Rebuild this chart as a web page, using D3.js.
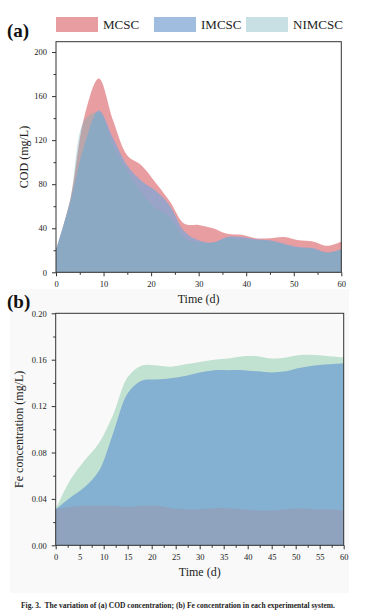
<!DOCTYPE html>
<html>
<head>
<meta charset="utf-8">
<script src="https://cdn.jsdelivr.net/npm/d3@7.9.0/dist/d3.min.js"></script>
<style>
  body { margin: 0; background: #fff; }
  svg { display: block; font-family: "Liberation Serif", "Times New Roman", serif; }
</style>
</head>
<body>
<svg id="fig" width="374" height="616"></svg>
<script>
// sampling days (both panels)
const days = [0, 3, 6, 9, 12, 15, 18, 21, 24, 27, 30, 33, 36, 39, 42, 45, 48, 51, 54, 57, 60];

// (a) COD, mg/L
const codMCSC   = [20, 66, 142, 176, 138, 106, 97, 81, 64, 44, 43, 40, 35, 34, 31, 31, 32, 29, 28, 24, 28];
const codIMCSC  = [20, 64, 116, 147, 122, 97, 83, 74, 60, 37, 29, 27, 32, 32, 30, 29, 26, 23, 22, 18, 21];
const codNIMCSC = [20, 66, 138, 145, 115, 92, 72, 58, 50, 31, 27, 27, 31, 30, 29, 28, 25, 22, 21, 18, 21];

// (b) Fe, mg/L
const feMCSC   = [0.031, 0.033, 0.034, 0.034, 0.034, 0.033, 0.034, 0.034, 0.032, 0.031, 0.031, 0.032, 0.032, 0.031, 0.030, 0.030, 0.031, 0.032, 0.031, 0.031, 0.030];
const feIMCSC  = [0.031, 0.041, 0.050, 0.064, 0.097, 0.131, 0.142, 0.143, 0.144, 0.146, 0.149, 0.151, 0.151, 0.151, 0.150, 0.149, 0.150, 0.153, 0.155, 0.156, 0.157];
const feNIMCSC = [0.031, 0.056, 0.073, 0.088, 0.113, 0.145, 0.155, 0.155, 0.154, 0.156, 0.158, 0.160, 0.161, 0.163, 0.163, 0.161, 0.162, 0.164, 0.164, 0.163, 0.162];

const seriesNames = ['MCSC', 'IMCSC', 'NIMCSC'];

const codYTicks = [0, 40, 80, 120, 160, 200];
const codXTicks = [0, 10, 20, 30, 40, 50, 60];
const feYTicks = [0, 0.04, 0.08, 0.12, 0.16, 0.20];
const feXTicks = [0, 5, 10, 15, 20, 25, 30, 35, 40, 45, 50, 55, 60];

const svg = d3.select('#fig');
const ink = '#222';
const serif = '"Liberation Serif", "Times New Roman", serif';

// faint figure background behind panel (b)
svg.append('rect').attr('x', 10).attr('y', 289).attr('width', 339).attr('height', 304).attr('fill', '#f9f9f9');

function drawAxes(g, x, y, opts) {
  let [x0, x1] = x.range();
  let [y0, y1] = y.range();

  let xMinor = [];
  for (let i = 0; i < opts.xTicks.length - 1; i++) xMinor.push((opts.xTicks[i] + opts.xTicks[i + 1]) / 2);
  let yMinor = [];
  for (let i = 0; i < opts.yTicks.length - 1; i++) yMinor.push((opts.yTicks[i] + opts.yTicks[i + 1]) / 2);

  let xa = g.append('g').attr('transform', `translate(0,${y0})`)
    .call(d3.axisBottom(x).tickValues(opts.xTicks).tickSize(4).tickSizeOuter(0).tickPadding(5));
  let xm = g.append('g').attr('transform', `translate(0,${y0})`)
    .call(d3.axisBottom(x).tickValues(xMinor).tickSize(2.5).tickSizeOuter(0).tickFormat(''));
  let ya = g.append('g').attr('transform', `translate(${x0},0)`)
    .call(d3.axisLeft(y).tickValues(opts.yTicks).tickSize(4).tickSizeOuter(0).tickPadding(5).tickFormat(opts.yFormat));
  let ym = g.append('g').attr('transform', `translate(${x0},0)`)
    .call(d3.axisLeft(y).tickValues(yMinor).tickSize(2.5).tickSizeOuter(0).tickFormat(''));

  [xa, xm, ya, ym].forEach((a) => {
    a.attr('font-family', serif).attr('font-size', 8.5);
    a.select('.domain').remove();
    a.selectAll('line').attr('stroke', '#333');
    a.selectAll('text').attr('fill', ink);
  });

  g.append('rect')
    .attr('x', x0).attr('y', y1)
    .attr('width', x1 - x0).attr('height', y0 - y1)
    .attr('fill', 'none').attr('stroke', '#333').attr('stroke-width', 1);

  g.append('text')
    .attr('x', (x0 + x1) / 2).attr('y', y0 + 31)
    .attr('text-anchor', 'middle').attr('font-size', 12).attr('fill', ink)
    .text('Time (d)');

  g.append('text')
    .attr('transform', `translate(${opts.yTitleX},${(y0 + y1) / 2}) rotate(-90)`)
    .attr('text-anchor', 'middle').attr('font-size', 12).attr('fill', ink)
    .text(opts.yTitle);
}

// ---------- (a) COD ----------
{
  let x = d3.scaleLinear().domain([0, 60]).range([56, 341.3]);
  let y = d3.scaleLinear().domain([0, 209.4]).range([272.3, 41.7]);
  let area = (vals) => d3.area()
    .x((d, i) => x(days[i]))
    .y0(y(0))
    .y1((d) => y(d))
    .curve(d3.curveCatmullRom.alpha(0.5))(vals);

  let layers = [
    { name: 'MCSC', values: codMCSC, color: '#e07c80', opacity: 0.75 },
    { name: 'IMCSC', values: codIMCSC, color: '#80a7d6', opacity: 0.75 },
    { name: 'NIMCSC', values: codNIMCSC, color: '#76b2bc', opacity: 0.4 }
  ];

  let g = svg.append('g');
  layers.forEach((l) => {
    g.append('path').attr('d', area(l.values)).attr('fill', l.color).attr('fill-opacity', l.opacity);
  });

  drawAxes(g, x, y, {
    xTicks: codXTicks, yTicks: codYTicks, yFormat: d3.format('d'),
    yTitle: 'COD (mg/L)', yTitleX: 28
  });

  // legend
  let legendX = [56, 154, 246];
  seriesNames.forEach((name, i) => {
    let l = layers[i];
    svg.append('rect')
      .attr('x', legendX[i]).attr('y', 17).attr('width', 42).attr('height', 15)
      .attr('fill', l.color).attr('fill-opacity', l.opacity);
    svg.append('text')
      .attr('x', legendX[i] + 47).attr('y', 29)
      .attr('font-size', 13).attr('fill', ink)
      .text(name);
  });

  svg.append('text').attr('x', 7).attr('y', 37)
    .attr('font-size', 19).attr('font-weight', 'bold').attr('fill', '#111').text('(a)');
}

// ---------- (b) Fe ----------
{
  let x = d3.scaleLinear().domain([0, 60]).range([55.7, 343.7]);
  let y = d3.scaleLinear().domain([0, 0.2]).range([545.3, 313.3]);
  let area = (vals) => d3.area()
    .x((d, i) => x(days[i]))
    .y0(y(0))
    .y1((d) => y(d))
    .curve(d3.curveCatmullRom.alpha(0.5))(vals);

  let layers = [
    { values: feNIMCSC, color: '#c1e1d1' },
    { values: feIMCSC, color: '#84b0d1' },
    { values: feMCSC, color: '#8fa3bf' }
  ];

  let g = svg.append('g');
  layers.forEach((l) => {
    g.append('path').attr('d', area(l.values)).attr('fill', l.color);
  });

  drawAxes(g, x, y, {
    xTicks: feXTicks, yTicks: feYTicks, yFormat: d3.format('.2f'),
    yTitle: 'Fe concentration (mg/L)', yTitleX: 23
  });

  svg.append('text').attr('x', 7).attr('y', 308)
    .attr('font-size', 19).attr('font-weight', 'bold').attr('fill', '#111').text('(b)');
}

// caption
let cap = svg.append('text').attr('x', 21).attr('y', 608)
  .attr('font-size', 7.5).attr('font-weight', 'bold').attr('fill', '#222')
  .attr('textLength', 314).attr('lengthAdjust', 'spacingAndGlyphs');
cap.append('tspan').text('Fig. 3.');
cap.append('tspan').text('\u2002The variation of (a) COD concentration; (b) Fe concentration in each experimental system.');
</script>
</body>
</html>
